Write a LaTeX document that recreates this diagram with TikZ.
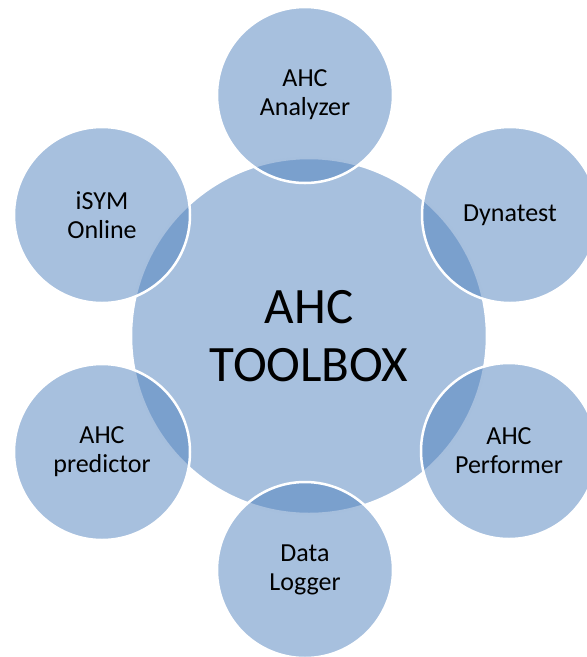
\documentclass[tikz,border=0pt]{standalone}
\usepackage{fontspec}
\setmainfont{Carlito}
\definecolor{accent}{HTML}{4F81BD}
\tikzset{
  hub/.style={circle, fill=accent, fill opacity=0.5, text opacity=1,
    draw=white, line width=2.5pt, inner sep=0pt, align=center,
    minimum size=356pt, font=\fontsize{51}{58}\selectfont},
  tool/.style={hub, minimum size=176pt, font=\fontsize{26}{29}\selectfont}
}

\begin{document}
\begin{tikzpicture}[x=1pt,y=-1pt]
  \useasboundingbox (0,0) rectangle (587,657);
  % big circle in the middle
  \node[hub] (toolbox) at (309,336) {AHC\\TOOLBOX};
  % the six tools around it
  \node[tool] (analyzer)  at (305,95)  {AHC\\Analyzer};
  \node[tool] (dynatest)  at (510,215) {Dynatest};
  \node[tool] (performer) at (509,451) {AHC\\Performer};
  \node[tool] (logger)    at (305,570) {Data\\Logger};
  \node[tool] (predictor) at (102,452) {AHC\\predictor};
  \node[tool] (isym)      at (102,215) {iSYM\\Online};
\end{tikzpicture}
\end{document}
